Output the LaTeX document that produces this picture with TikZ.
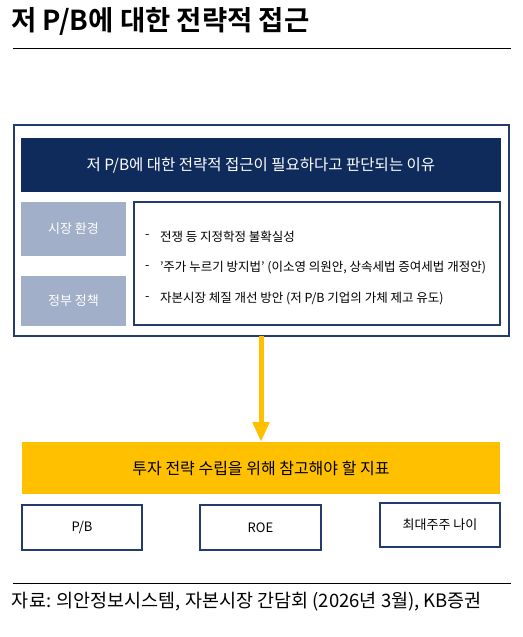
\documentclass[tikz,border=0pt]{standalone}
\usepackage{fontspec}
\setmainfont{Noto Sans CJK KR}
\newfontfamily\krbold{Noto Sans CJK KR Bold}
\usetikzlibrary{arrows.meta}
\definecolor{navy}{HTML}{0E2B5C}
\definecolor{bordernavy}{HTML}{233C6B}
\definecolor{steel}{HTML}{A2AFC8}
\definecolor{gold}{HTML}{FFC000}
\begin{document}
\begin{tikzpicture}[x=1pt,y=-1pt,
  every node/.style={inner sep=0pt,outer sep=0pt},
  rule/.style={line width=1pt,black},
  greybox/.style={fill=steel,text=white,font=\fontsize{13}{15}\selectfont},
  framebox/.style={draw=bordernavy,line width=1.6pt},
  smallbox/.style={draw=bordernavy,line width=1.6pt,fill=white,font=\fontsize{13}{15}\selectfont},
  bullet/.style={anchor=west,font=\fontsize{12.5}{15}\selectfont}
]
\useasboundingbox (0,0) rectangle (522,637);
\fill[white] (0,0) rectangle (522,637);
% title
\node[anchor=west,font=\krbold\fontsize{27.5}{30}\selectfont] (title) at (11,21) {저 P/B에 대한 전략적 접근};
\coordinate (r1a) at (13,48); \coordinate (r1b) at (511,48);
\draw[rule] (r1a) -- (r1b);
% outer box
\node[framebox,minimum width=495,minimum height=211,anchor=north west] (outer) at (14,125) {};
% header
\node[fill=navy,text=white,minimum width=480,minimum height=54,anchor=north west,font=\fontsize{15.5}{19}\selectfont] (head) at (21,138) {저 P/B에 대한 전략적 접근이 필요하다고 판단되는 이유};
% grey boxes
\node[greybox,minimum width=105,minimum height=54,anchor=north west] (market) at (21,202) {시장 환경};
\node[greybox,minimum width=105,minimum height=50,anchor=north west] (policy) at (21,276) {정부 정책};
% inner list box
\node[draw=bordernavy,line width=1.4pt,fill=white,minimum width=366,minimum height=123,anchor=north west] (list) at (134,202) {};
\node[bullet] (d1) at (145,237) {-};
\node[bullet] (b1) at (160,237) {전쟁 등 지정학정 불확실성};
\node[bullet] (d2) at (145,268) {-};
\node[bullet] (b2) at (160,268) {'주가 누르기 방지법' (이소영 의원안, 상속세법 증여세법 개정안)};
\node[bullet] (d3) at (145,299) {-};
\node[bullet] (b3) at (160,299) {자본시장 체질 개선 방안 (저 P/B 기업의 가체 제고 유도)};
% gold box
\node[fill=gold,minimum width=478,minimum height=52,anchor=north west,font=\fontsize{16}{19}\selectfont] (ind) at (22,442) {투자 전략 수립을 위해 참고해야 할 지표};
% arrow
\draw[gold,line width=5pt,-{Triangle[width=16pt,length=20pt]}] (outer.south -| 261,0) -- (ind.north -| 261,0);
% three boxes
\node[smallbox,minimum width=120,minimum height=45,anchor=north west] (pb) at (22,505) {P/B};
\node[smallbox,minimum width=121,minimum height=45,anchor=north west] (roe) at (200,505) {ROE};
\node[smallbox,minimum width=120,minimum height=44,anchor=north west] (age) at (380,503) {최대주주 나이};
% bottom rule and source
\coordinate (r2a) at (13,583); \coordinate (r2b) at (511,583);
\draw[rule] (r2a) -- (r2b);
\node[anchor=west,font=\fontsize{18.5}{21}\selectfont] (src) at (12,602) {자료: 의안정보시스템, 자본시장 간담회 (2026년 3월), KB증권};
\end{tikzpicture}
\end{document}
